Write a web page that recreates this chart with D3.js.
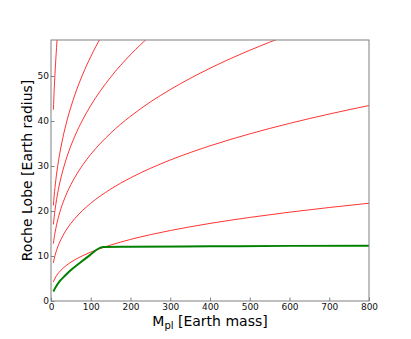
<!DOCTYPE html>
<html>
<head>
<meta charset="utf-8">
<script src="https://cdn.jsdelivr.net/npm/d3@7"></script>
<style>
  body { margin: 0; background: #fff; }
  text { font-family: "DejaVu Sans", sans-serif; }
</style>
</head>
<body>
<script>
// planet mass grid [Earth mass] for the Roche lobe curves
const massGrid = [6, 8, 10, 14, 20, 30, 40, 60, 80, 100, 150, 200, 250, 300, 400, 500, 600, 700, 800]

// Roche lobe [Earth radius] per orbit
const lobe1 = [4.25, 4.68, 5.04, 5.64, 6.35, 7.27, 8.00, 9.16, 10.08, 10.86, 12.43, 13.68, 14.74, 15.66, 17.24, 18.57, 19.74, 20.78, 21.72]
const lobe2 = [8.50, 9.36, 10.08, 11.28, 12.70, 14.54, 16.01, 18.32, 20.17, 21.72, 24.86, 27.37, 29.48, 31.33, 34.48, 37.14, 39.47, 41.55, 43.44]
const lobe3 = [12.76, 14.04, 15.12, 16.92, 19.05, 21.81, 24.01, 27.48, 30.25, 32.59, 37.30, 41.05, 44.23, 46.99, 51.72, 55.72, 59.21, 62.33, 65.17]
const lobe4 = [17.01, 18.72, 20.16, 22.56, 25.40, 29.08, 32.01, 36.64, 40.33, 43.45, 49.73, 54.74, 58.97, 62.66]
const lobe5 = [21.26, 23.40, 25.20, 28.20, 31.75, 36.35, 40.01, 45.81, 50.42, 54.31, 62.16]
const lobe10 = [42.52, 46.80, 50.40, 56.39, 63.51]

// planet radius track
const trackMass = [6, 10, 22, 35, 48, 73, 98, 123, 132, 200, 400, 600, 800]
const trackRadius = [2.1, 2.8, 4.4, 5.6, 6.7, 8.5, 10.2, 11.8, 12.0, 12.05, 12.15, 12.25, 12.3]

const xTicks = [0, 100, 200, 300, 400, 500, 600, 700, 800]
const yTicks = [0, 10, 20, 30, 40, 50]

const width = 411
const height = 339
const margin = {top: 40, right: 42, bottom: 38, left: 51}
const w = width - margin.left - margin.right
const h = height - margin.top - margin.bottom

let svg = d3.select("body").append("svg")
    .attr("width", width)
    .attr("height", height)

let x = d3.scaleLinear().domain([0, 800]).range([0, w])
let y = d3.scaleLinear().domain([0, 58]).range([h, 0])

let g = svg.append("g").attr("transform", "translate(" + margin.left + "," + margin.top + ")")

g.append("clipPath").attr("id", "plotclip")
    .append("rect").attr("width", w).attr("height", h)

let line = d3.line()
    .x(d => x(d[0]))
    .y(d => y(d[1]))
    .curve(d3.curveMonotoneX)

let lines = g.append("g").attr("clip-path", "url(#plotclip)")

let redCurves = [lobe1, lobe2, lobe3, lobe4, lobe5, lobe10]
redCurves.forEach(vals => {
    lines.append("path")
        .datum(vals.map((v, i) => [massGrid[i], v]))
        .attr("fill", "none")
        .attr("stroke", "#ff0000")
        .attr("stroke-width", 0.8)
        .attr("d", line)
})

lines.append("path")
    .datum(trackMass.map((m, i) => [m, trackRadius[i]]))
    .attr("fill", "none")
    .attr("stroke", "#008000")
    .attr("stroke-width", 2)
    .attr("d", line)

let xAxis = g.append("g")
    .attr("transform", "translate(0," + h + ")")
    .call(d3.axisBottom(x).tickValues(xTicks).tickSize(-3.5).tickPadding(3).tickFormat(d3.format("d")))
let yAxis = g.append("g")
    .call(d3.axisLeft(y).tickValues(yTicks).tickSize(-3.5).tickPadding(2).tickFormat(d3.format("d")))

svg.selectAll(".domain").remove()
svg.selectAll(".tick line").attr("stroke", "#808080")
svg.selectAll(".tick text")
    .attr("fill", "#111")
    .style("font-size", "9px")
    .style("font-family", "DejaVu Sans")

g.append("rect")
    .attr("width", w)
    .attr("height", h)
    .attr("fill", "none")
    .attr("stroke", "#808080")
    .attr("stroke-width", 1)

let xLabel = svg.append("text")
    .attr("x", margin.left + w / 2)
    .attr("y", 325.5)
    .attr("text-anchor", "middle")
    .style("font-size", "14px")
xLabel.append("tspan").text("M")
xLabel.append("tspan").attr("dy", 3).style("font-size", "10px").text("pl")
xLabel.append("tspan").attr("dy", -3).text(" [Earth mass]")

svg.append("text")
    .attr("transform", "translate(32," + (margin.top + h / 2) + ") rotate(-90)")
    .attr("text-anchor", "middle")
    .style("font-size", "14px")
    .text("Roche Lobe [Earth radius]")
</script>
</body>
</html>
